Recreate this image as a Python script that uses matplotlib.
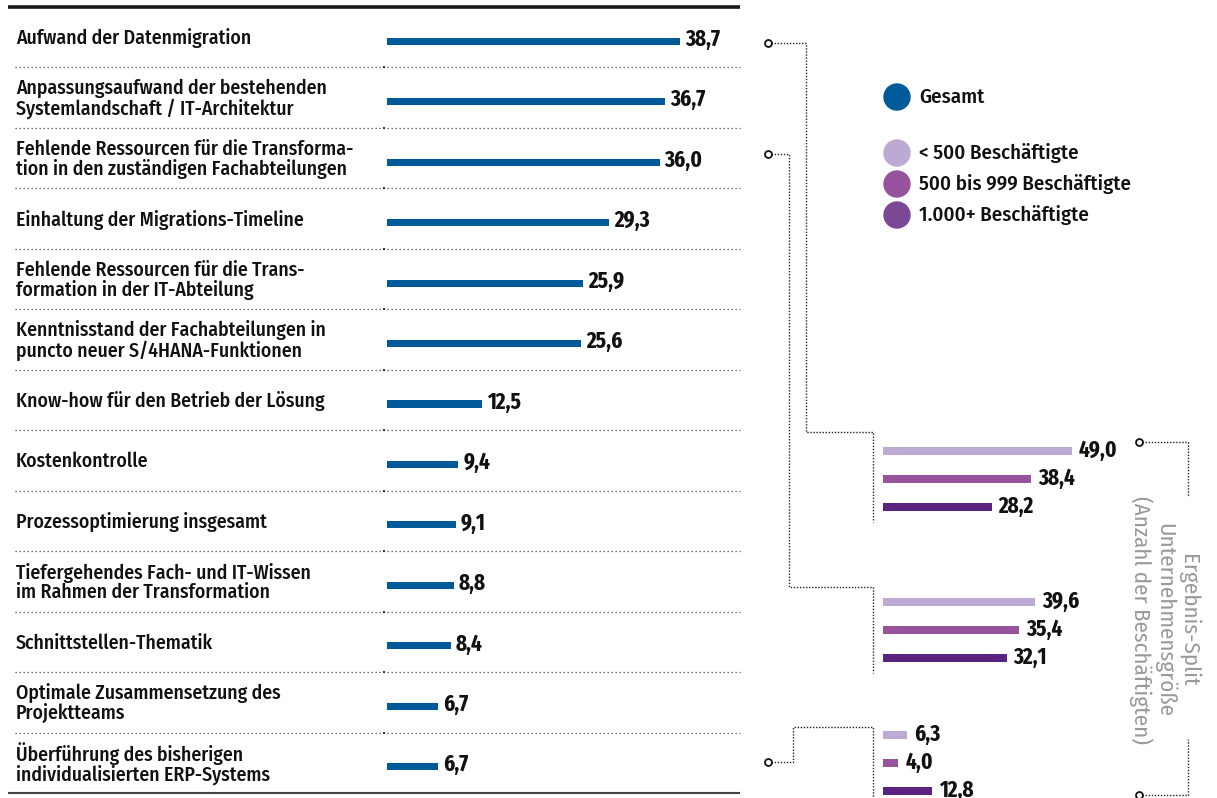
import matplotlib
matplotlib.use('Agg')
import matplotlib.pyplot as plt
import matplotlib.transforms as mtransforms
from matplotlib.patches import Circle

plt.rcParams['font.family'] = ['Fira Sans Condensed', 'DejaVu Sans']

labels = [
    'Aufwand der Datenmigration',
    'Anpassungsaufwand der bestehenden\nSystemlandschaft / IT-Architektur',
    'Fehlende Ressourcen für die Transforma-\ntion in den zuständigen Fachabteilungen',
    'Einhaltung der Migrations-Timeline',
    'Fehlende Ressourcen für die Trans-\nformation in der IT-Abteilung',
    'Kenntnisstand der Fachabteilungen in\npuncto neuer S/4HANA-Funktionen',
    'Know-how für den Betrieb der Lösung',
    'Kostenkontrolle',
    'Prozessoptimierung insgesamt',
    'Tiefergehendes Fach- und IT-Wissen\nim Rahmen der Transformation',
    'Schnittstellen-Thematik',
    'Optimale Zusammensetzung des\nProjektteams',
    'Überführung des bisherigen\nindividualisierten ERP-Systems',
]
gesamt = [38.7, 36.7, 36.0, 29.3, 25.9, 25.6, 12.5, 9.4, 9.1, 8.8, 8.4, 6.7, 6.7]

# split by company size, for rows 1, 3 and 13
size_groups = ['< 500 Beschäftigte', '500 bis 999 Beschäftigte', '1.000+ Beschäftigte']
lt500 = [49.0, 39.6, 6.3]
mid500_999 = [38.4, 35.4, 4.0]
ge1000 = [28.2, 32.1, 12.8]

blue = '#005A9A'
split_colors = ['#BDAAD4', '#97549C', '#5B2380']
legend_colors = ['#BDAAD4', '#97549C', '#7B4896']
num_font = ['Fira Sans Extra Condensed', 'DejaVu Sans']


def fmt(v):
    return f'{v:.1f}'.replace('.', ',')


W, H = 1217, 798
fig = plt.figure(figsize=(W / 100, H / 100), dpi=100)

# overlay in pixel coords for rules, connectors, legend
ov = fig.add_axes([0, 0, 1, 1])
ov.set_xlim(0, W)
ov.set_ylim(H, 0)
ov.axis('off')

row_h = 60.46
ov.plot([8, 740], [7, 7], color='#1a1a1a', lw=2.6, solid_capstyle='butt')
ov.plot([8, 740], [793, 793], color='#444444', lw=1.5, solid_capstyle='butt')
for k in range(1, 13):
    y = 7 + row_h * k
    ov.plot([15, 740], [y, y], color='#4a4a4a', lw=0.9, ls=(0, (1, 2.2)))
    ov.plot([384], [y], marker='s', ms=1.8, color='#333333', mew=0)

# main bars
ax = fig.add_axes([387 / W, 1 - 797 / H, 378.5 / W, 786 / H])
ax.set_xlim(0, 50)
ax.set_ylim(12.5, -0.5)
ax.axis('off')
ax.barh(range(len(gesamt)), gesamt, height=7 / row_h, color=blue)
blend = mtransforms.blended_transform_factory(ov.transData, ax.transData)
for i, (lab, v) in enumerate(zip(labels, gesamt)):
    ax.annotate(fmt(v), (v, i), xytext=(5, 2), textcoords='offset pixels',
                va='center', ha='left', fontsize=16.5, fontweight=700,
                family=num_font, color='#111111')
    ax.annotate(lab, xy=(16, i), xycoords=blend, xytext=(0, 3), textcoords='offset pixels',
                va='center', ha='left', fontsize=14.2, fontweight=500, color='#111111',
                linespacing=1.0)

# split bars
ax2 = fig.add_axes([883 / W, 0, 231 / W, 1])
ax2.set_xlim(0, 60)
ax2.set_ylim(H, 0)
ax2.axis('off')
group_top = [451, 602, 735]
for k, (vals, col) in enumerate(zip([lt500, mid500_999, ge1000], split_colors)):
    ys = [g + 28 * k for g in group_top]
    ax2.barh(ys, vals, height=8, color=col)
    for y, v in zip(ys, vals):
        ax2.annotate(fmt(v), (v, y), xytext=(7, 1), textcoords='offset pixels',
                     va='center', ha='left', fontsize=16.5, fontweight=700,
                     family=num_font, color='#111111')

# connectors
dot = dict(color='#222222', lw=1.0, ls=(0, (1, 1.2)))
paths = [
    ([768, 806, 806, 873, 873], [43, 43, 432, 432, 522]),
    ([768, 789, 789, 873, 873], [154, 154, 587, 587, 673]),
    ([768, 793, 793, 873, 873], [762, 762, 727, 727, 798]),
    ([1139, 1188, 1188], [442, 442, 497]),
    ([1139, 1188, 1188], [795, 795, 739]),
]
for xs, ys in paths:
    ov.plot(xs, ys, **dot)
    ov.plot(xs[0], ys[0], marker='o', ms=5, mfc='white', mec='#111111', mew=1.3)

# legend
ov.add_patch(Circle((897, 97), 13, color=blue))
ov.text(919, 97, 'Gesamt', va='center', ha='left', fontsize=15, fontweight=500,
        color='#111111')
for k, (lab, col) in enumerate(zip(size_groups, legend_colors)):
    y = 153 + 31 * k
    ov.add_patch(Circle((897, y), 13, color=col))
    ov.text(919, y, lab, va='center', ha='left', fontsize=15, fontweight=500,
            color='#111111')

ov.text(1164, 620, 'Ergebnis-Split\nUnternehmensgröße\n(Anzahl der Beschäftigten)',
        rotation=-90, ha='center', va='center', fontsize=16.5, fontweight=400,
        family=['Fira Sans Condensed', 'DejaVu Sans'],
        color='#999999', linespacing=1.05, multialignment='center')

fig.savefig('out.png', dpi=100)
